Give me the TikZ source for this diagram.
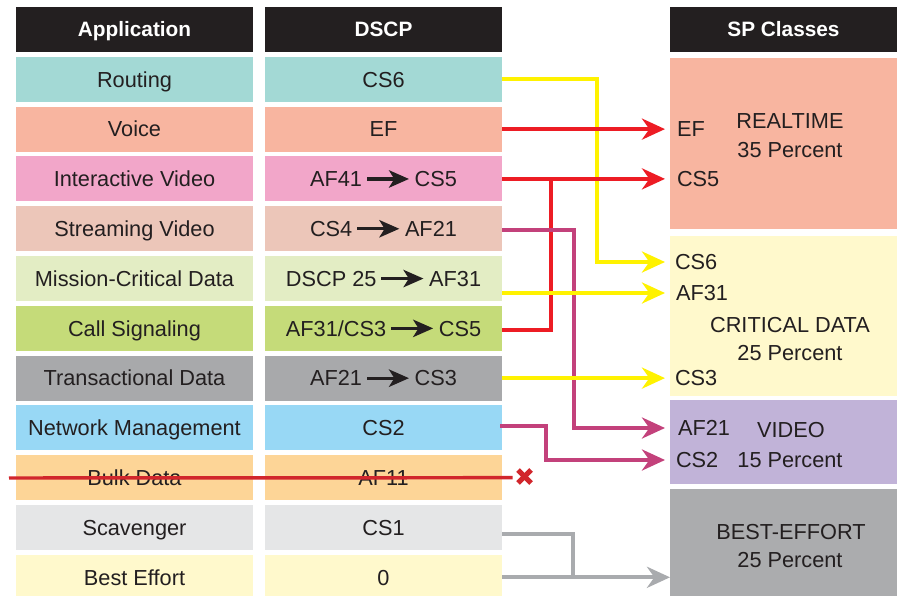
\documentclass[tikz,border=0pt]{standalone}
\usepackage{fontspec}
\setmainfont{Liberation Sans}
\usetikzlibrary{arrows.meta,calc}

\definecolor{ink}{HTML}{231F20}
\definecolor{cRout}{HTML}{A3D9D5}
\definecolor{cVoice}{HTML}{F8B5A0}
\definecolor{cIVid}{HTML}{F2A6C9}
\definecolor{cSVid}{HTML}{ECC6B9}
\definecolor{cMcd}{HTML}{E3EDC4}
\definecolor{cSig}{HTML}{C5DB79}
\definecolor{cTdat}{HTML}{A8A9AB}
\definecolor{cNet}{HTML}{98D8F5}
\definecolor{cBulk}{HTML}{FDD597}
\definecolor{cScav}{HTML}{E5E6E7}
\definecolor{cBeff}{HTML}{FFF9CC}
\definecolor{cRT}{HTML}{F8B5A0}
\definecolor{cCrit}{HTML}{FFF9CC}
\definecolor{cVideo}{HTML}{C1B3D8}
\definecolor{cBE}{HTML}{ABACAE}
\definecolor{lnYel}{HTML}{FFF200}
\definecolor{lnRed}{HTML}{ED1C24}
\definecolor{lnMag}{HTML}{C3417B}
\definecolor{lnGry}{HTML}{A9ABAE}
\definecolor{lnStrike}{HTML}{D1262C}

% small black arrow used inside the DSCP cells
\newcommand{\remark}{\hspace{2.5pt}\tikz[baseline=0pt]\draw[ink,line width=2.5pt,-{Stealth[length=15pt,width=13pt,inset=4pt]}] (0pt,5.8pt) -- (31.5pt,5.8pt);\hspace{3pt}}

\tikzset{
  txt/.style={text=ink, font=\fontsize{16.3}{19}\selectfont, text height=11.7pt, text depth=0pt},
  cell/.style={txt, minimum width=177.75pt, minimum height=33.75pt, inner sep=0pt, outer sep=0pt},
  head/.style={cell, fill=ink, text=white, font=\bfseries\fontsize{15.6}{19}\selectfont, text height=11.2pt},
  spbox/.style={minimum width=170.25pt, inner sep=0pt, outer sep=0pt},
  lbl/.style={txt, inner sep=0pt, outer sep=0pt},
  conn/.style={line width=3pt},
  tip/.style={-{Stealth[length=17.25pt,width=15.75pt,inset=5.5pt]}},
}

\begin{document}
\begin{tikzpicture}[x=0.75pt,y=-0.75pt]
\clip (0,0) rectangle (897,596);
\fill[white] (0,0) rectangle (897,596);

% application column
\node[head]              (a0)  at (134.5,29.5)  {Application};
\node[cell,fill=cRout]   (a1)  at (134.5,79.3)  {Routing};
\node[cell,fill=cVoice]  (a2)  at (134.5,129.1) {Voice};
\node[cell,fill=cIVid]   (a3)  at (134.5,178.9) {Interactive Video};
\node[cell,fill=cSVid]   (a4)  at (134.5,228.7) {Streaming Video};
\node[cell,fill=cMcd]    (a5)  at (134.5,278.5) {Mission-Critical Data};
\node[cell,fill=cSig]    (a6)  at (134.5,328.3) {Call Signaling};
\node[cell,fill=cTdat]   (a7)  at (134.5,378.1) {Transactional Data};
\node[cell,fill=cNet]    (a8)  at (134.5,427.9) {Network Management};
\node[cell,fill=cBulk]   (a9)  at (134.5,477.7) {Bulk Data};
\node[cell,fill=cScav]   (a10) at (134.5,527.5) {Scavenger};
\node[cell,fill=cBeff]   (a11) at (134.5,577.3) {Best Effort};

% DSCP column
\node[head]              (d0)  at (383.5,29.5)  {DSCP};
\node[cell,fill=cRout]   (d1)  at (383.5,79.3)  {CS6};
\node[cell,fill=cVoice]  (d2)  at (383.5,129.1) {EF};
\node[cell,fill=cIVid]   (d3)  at (383.5,178.9) {AF41\remark CS5};
\node[cell,fill=cSVid]   (d4)  at (383.5,228.7) {CS4\remark AF21};
\node[cell,fill=cMcd]    (d5)  at (383.5,278.5) {DSCP 25\remark AF31};
\node[cell,fill=cSig]    (d6)  at (383.5,328.3) {AF31/CS3\remark CS5};
\node[cell,fill=cTdat]   (d7)  at (383.5,378.1) {AF21\remark CS3};
\node[cell,fill=cNet]    (d8)  at (383.5,427.9) {CS2};
\node[cell,fill=cBulk]   (d9)  at (383.5,477.7) {AF11};
\node[cell,fill=cScav]   (d10) at (383.5,527.5) {CS1};
\node[cell,fill=cBeff]   (d11) at (383.5,577.3) {0};

% service provider classes
\node[head,spbox,minimum height=33.75pt] (s0) at (783.5,29.5) {SP Classes};
\node[spbox,fill=cRT,minimum height=128.25pt]   (s1) at (783.5,143.5) {};
\node[spbox,fill=cCrit,minimum height=120pt]    (s2) at (783.5,316) {};
\node[spbox,fill=cVideo,minimum height=63pt]    (s3) at (783.5,442) {};
\node[spbox,fill=cBE,minimum height=83.25pt]    (s4) at (783.5,544.5) {};

\node[lbl] (rt1) at (790,121) {REALTIME};
\node[lbl] (rt2) at (790,150) {35 Percent};
\node[lbl] (cr1) at (790,325) {CRITICAL DATA};
\node[lbl] (cr2) at (790,353) {25 Percent};
\node[lbl] (vi1) at (791,430) {VIDEO};
\node[lbl] (vi2) at (790,460) {15 Percent};
\node[lbl] (be1) at (791,532) {BEST-EFFORT};
\node[lbl] (be2) at (790,560) {25 Percent};

\node[lbl,anchor=west] (lEF)   at (677,129.1) {EF};
\node[lbl,anchor=west] (lCS5)  at (677,178.9) {CS5};
\node[lbl,anchor=west] (lCS6)  at (675,262)   {CS6};
\node[lbl,anchor=west] (lAF31) at (676,293)   {AF31};
\node[lbl,anchor=west] (lCS3)  at (675,378.1) {CS3};
\node[lbl,anchor=west] (lAF21) at (678,428)   {AF21};
\node[lbl,anchor=west] (lCS2)  at (676,460)   {CS2};

% arrow tips stop short of the class boxes; vertical rails of the routed lines
\coordinate (rim)   at (665,0);
\coordinate (railA) at (597,0);
\coordinate (railB) at (551,0);
\coordinate (railC) at (574,0);
\coordinate (railD) at (546,0);
\coordinate (railE) at (573,0);

% connectors
\draw[conn,lnYel,tip] (d1.east) -| (railA |- lCS6) -- (lCS6 -| rim);
\draw[conn,lnRed,tip] (d2.east) -- (d2.east -| rim);
\draw[conn,lnRed,tip] (d3.east) -- (d3.east -| rim);
\draw[conn,lnRed] ($(d6.east)+(0,1.5)$) -| (railB |- d3.east);
\draw[conn,lnMag,tip] ($(d4.east)+(0,1.5)$) -| (railC |- lAF21) -- (lAF21 -| rim);
\draw[conn,lnYel,tip] (d5.east |- lAF31) -- (lAF31 -| rim);
\draw[conn,lnYel,tip] (d7.east) -- (d7.east -| rim);
\draw[conn,lnMag,tip] ($(d8.east)+(-2,-2)$) -| (railD |- lCS2) -- (lCS2 -| rim);
\draw[conn,lnGry] ($(d10.east)+(0,6.5)$) -| (railE |- d11.east);
\draw[conn,lnGry,tip] (d11.east) -- (d11.east -| s4.west);

% bulk data is dropped
\coordinate (xmark) at (524.5,476.5);
\draw[lnStrike,line width=2.6pt] ($(a9.west)+(-7,0.3)$) -- ($(xmark)+(-12,1.2)$);
\draw[lnStrike,line width=3.8pt] ($(xmark)+(-6.5,-6.5)$) -- ($(xmark)+(6.5,6.5)$);
\draw[lnStrike,line width=3.8pt] ($(xmark)+(-6.5,6.5)$) -- ($(xmark)+(6.5,-6.5)$);
\end{tikzpicture}
\end{document}
